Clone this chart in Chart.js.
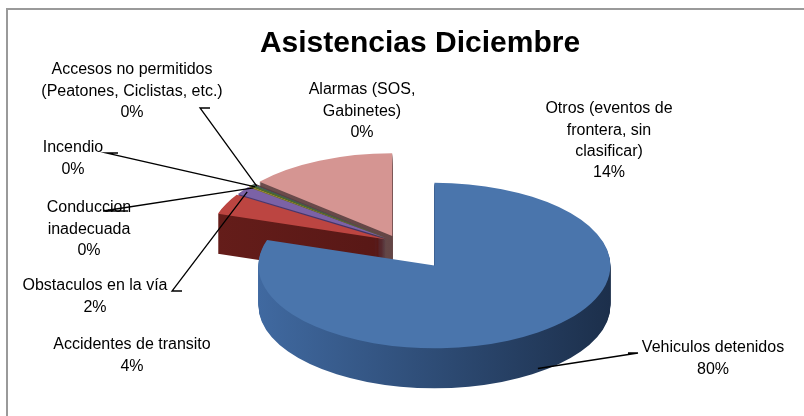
<!DOCTYPE html>
<html>
<head>
<meta charset="utf-8">
<script src="https://cdn.jsdelivr.net/npm/chart.js@4/dist/chart.umd.min.js"></script>
<style>
  html, body { margin: 0; padding: 0; background: #ffffff; }
  #wrap { width: 804px; height: 416px; position: relative; }
</style>
</head>
<body>
<div id="wrap"><canvas id="c" width="804" height="416"></canvas></div>
<script>
// ---- data ----
const categories = [
  'Vehiculos detenidos',
  'Accidentes de transito',
  'Obstaculos en la vía',
  'Conduccion inadecuada',
  'Incendio',
  'Accesos no permitidos (Peatones, Ciclistas, etc.)',
  'Alarmas (SOS, Gabinetes)',
  'Otros (eventos de frontera, sin clasificar)'
];
const values = [80.0, 4.0, 1.6, 0.2, 0.3, 0.1, 0.2, 13.6];
const chartTitle = 'Asistencias Diciembre';

// ---- styles / layout ----
const topColors  = ['#4A75AC', '#BC4541', '#7B62A6', '#A48F32', '#4F6B2C', '#2E6E80', '#5A3F3F', '#D59592'];
const sideDark   = ['#1C2F4B', '#4A1211', '#372A55', '#5A4E18', '#2A3A18', '#1A3D47', '#3A2828', '#5A3E3E'];
const sideLight  = ['#4069A0', '#651D1A', '#4D3B72', '#7A6A22', '#3A5022', '#245765', '#4D3434', '#6E4E4E'];
const explodePx  = [62, 14, 14, 14, 14, 14, 14, 14];
const SQUASH = 0.47, DEPTH = 40, PIE_X = 398, PIE_Y = 242, RADIUS = 176;
const FONT = '"Liberation Sans", Arial, sans-serif';

// label layout: lines, centre x, first-line centre y, leader tick [x1,y1,x2,y2] or null, anchor depth fraction
const labelLayout = [
  { lines: ['Vehiculos detenidos'], x: 713, y: 348, tick: [638, 353, 628, 353], side: 0.9, rf: 1.0 },
  { lines: ['Accidentes de transito'], x: 132, y: 345, tick: null },
  { lines: ['Obstaculos en la vía'], x: 95, y: 286, tick: [172, 291, 182, 291], side: 0, rf: 0.97 },
  { lines: ['Conduccion', 'inadecuada'], x: 89, y: 208, tick: [103, 211, 128, 211], side: 0, rf: 0.97 },
  { lines: ['Incendio'], x: 73, y: 148, tick: [106, 153, 118, 153], side: 0, rf: 0.97 },
  { lines: ['Accesos no permitidos', '(Peatones, Ciclistas, etc.)'], x: 132, y: 70, tick: [200, 108, 210, 108], side: 0, rf: 0.97 },
  { lines: ['Alarmas (SOS,', 'Gabinetes)'], x: 362, y: 90, tick: null },
  { lines: ['Otros (eventos de', 'frontera, sin', 'clasificar)'], x: 609, y: 109, tick: null }
];
const LINE_H = 21.3;

function pieTransform(ctx, area, dy) {
  const cx = (area.left + area.right) / 2, cy = (area.top + area.bottom) / 2;
  ctx.translate(PIE_X, PIE_Y + (dy || 0));
  ctx.scale(1, SQUASH);
  ctx.translate(-cx, -cy);
}
function toScreen(area, x, y, dy) {
  const cx = (area.left + area.right) / 2, cy = (area.top + area.bottom) / 2;
  return [PIE_X + (x - cx), PIE_Y + (y - cy) * SQUASH + (dy || 0)];
}
function arcGeom(arc) {
  const p = arc.getProps(['x', 'y', 'startAngle', 'endAngle', 'outerRadius'], true);
  const mid = (p.startAngle + p.endAngle) / 2;
  return { x: p.x, y: p.y, s: p.startAngle, e: p.endAngle, r: p.outerRadius, mid };
}

const framePlugin = {
  id: 'frame',
  beforeDraw(chart) {
    const ctx = chart.ctx;
    ctx.save();
    ctx.fillStyle = '#ffffff';
    ctx.fillRect(0, 0, chart.width, chart.height);
    ctx.strokeStyle = '#9a9a9a';
    ctx.lineWidth = 2;
    ctx.strokeRect(7, 9, 900, 600);
    ctx.restore();
  }
};

const pie3d = {
  id: 'pie3d',
  afterDatasetsUpdate(chart) {
    // explode slices by moving each arc element's centre along its mid angle
    chart.getDatasetMeta(0).data.forEach((arc, i) => {
      const mid = (arc.startAngle + arc.endAngle) / 2;
      arc.x += Math.cos(mid) * explodePx[i];
      arc.y += Math.sin(mid) * explodePx[i];
    });
  },
  beforeDatasetsDraw(chart) {
    const ctx = chart.ctx, area = chart.chartArea;
    const arcs = chart.getDatasetMeta(0).data;
    for (let d = DEPTH; d >= 1; d--) {
      ctx.save();
      pieTransform(ctx, area, d);
      arcs.forEach((arc, i) => {
        const g = arcGeom(arc);
        const grad = ctx.createLinearGradient(g.x - g.r, 0, g.x + g.r, 0);
        grad.addColorStop(0, sideLight[i]);
        grad.addColorStop(1, sideDark[i]);
        ctx.fillStyle = grad;
        ctx.beginPath();
        ctx.moveTo(g.x, g.y);
        ctx.arc(g.x, g.y, g.r, g.s, g.e);
        ctx.closePath();
        ctx.fill();
      });
      ctx.restore();
    }
    ctx.save();
    pieTransform(ctx, area, 0);
  },
  afterDatasetsDraw(chart) {
    chart.ctx.restore();
  },
  afterDraw(chart) {
    const ctx = chart.ctx, area = chart.chartArea;
    const arcs = chart.getDatasetMeta(0).data;
    const total = values.reduce((a, b) => a + b, 0);
    ctx.save();
    ctx.font = '16px ' + FONT;
    ctx.fillStyle = '#000000';
    ctx.textAlign = 'center';
    ctx.textBaseline = 'middle';
    labelLayout.forEach((L, i) => {
      const pct = Math.round(values[i] / total * 100) + '%';
      const lines = L.lines.concat([pct]);
      lines.forEach((t, j) => ctx.fillText(t, L.x, L.y + j * LINE_H));
      if (L.tick) {
        const g = arcGeom(arcs[i]);
        const ax = g.x + Math.cos(g.mid) * g.r * L.rf;
        const ay = g.y + Math.sin(g.mid) * g.r * L.rf;
        const s = toScreen(area, ax, ay, DEPTH * (L.side || 0));
        ctx.strokeStyle = '#000000';
        ctx.lineWidth = 1.3;
        ctx.beginPath();
        ctx.moveTo(L.tick[2], L.tick[3]);
        ctx.lineTo(L.tick[0], L.tick[1]);
        ctx.lineTo(s[0], s[1]);
        ctx.stroke();
      }
    });
    ctx.restore();
  }
};

new Chart(document.getElementById('c'), {
  type: 'pie',
  data: {
    labels: categories,
    datasets: [{
      data: values,
      backgroundColor: topColors,
      borderWidth: 0,
      radius: RADIUS,
      clip: false
    }]
  },
  options: {
    responsive: false,
    animation: false,
    events: [],
    layout: { padding: { left: 36, top: 0, right: 0, bottom: 0 } },
    plugins: {
      legend: { display: false },
      tooltip: { enabled: false },
      title: {
        display: true,
        text: chartTitle,
        color: '#000000',
        font: { family: FONT, size: 30, weight: 'bold' },
        padding: { top: 26, bottom: 10 }
      }
    }
  },
  plugins: [framePlugin, pie3d]
});
</script>
</body>
</html>
